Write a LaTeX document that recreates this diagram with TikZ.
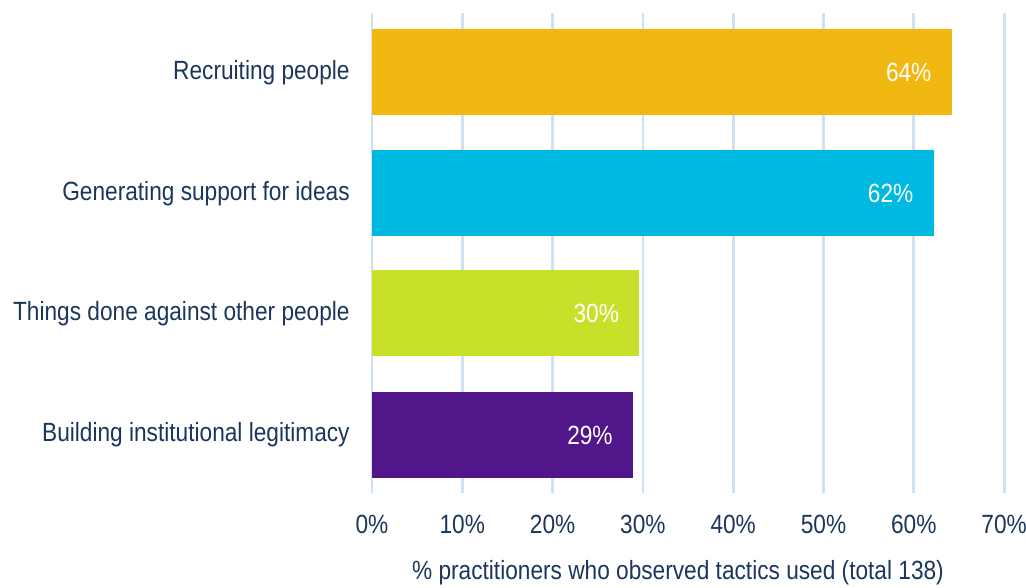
\documentclass[tikz,border=0pt]{standalone}
\usepackage{fontspec}
\setmainfont{Liberation Sans}[FakeStretch=0.86]
\usepackage{tikz}
\usetikzlibrary{positioning}
\definecolor{chartnavy}{HTML}{1B365D}
\definecolor{gridblue}{HTML}{CFE1F5}
\definecolor{baryellow}{HTML}{F1B811}
\definecolor{barcyan}{HTML}{00B9E0}
\definecolor{barlime}{HTML}{C9E02B}
\definecolor{barpurple}{HTML}{50168A}
\tikzset{
  tacticbox/.style={rectangle, anchor=west, inner sep=0pt, outer sep=0pt, minimum height=1.72cm},
  vallabel/.style={text=white, font=\fontsize{15}{18}\selectfont, inner sep=0pt},
  catlabel/.style={text=chartnavy, font=\fontsize{15}{18}\selectfont, inner sep=0pt},
  gridrule/.style={draw=gridblue, line width=1.6pt}
}
\newcommand{\tacticbar}[6] {\node at (7.44,#1) (#2) [tacticbox, fill=#3, minimum width=#4*0.1806cm] {};
  \node (#2val) [vallabel, left=0.4cm of #2.east] {#5};
  \node (#2cat) [catlabel, left=0.44cm of #2.west] {#6};}

\begin{document}
\begin{tikzpicture}
\useasboundingbox (0,0) rectangle (20.52,11.76);

% grid and ticks
\foreach \p in {0,10,...,70} {
  \coordinate (top\p) at (7.44+\p*0.1806, 11.5);
  \coordinate (bot\p) at (7.44+\p*0.1806, 1.9);
  \draw [gridrule] (top\p) -- (bot\p);
  \node (tick\p) [catlabel] at (7.44+\p*0.1806, 1.28) {\p\%};
}

% bars
\tacticbar {10.31}{recruit}{baryellow}{64.2}{64\%}{Recruiting people}
\tacticbar {7.89}{support}{barcyan}{62.2}{62\%}{Generating support for ideas}
\tacticbar {5.49}{against}{barlime}{29.6}{30\%}{Things done against other people}
\tacticbar {3.06}{legit}{barpurple}{28.9}{29\%}{Building institutional legitimacy}

\node (xtitle) [catlabel] at (13.56,0.3) {\% practitioners who observed tactics used (total 138)};
\end{tikzpicture}
\end{document}
